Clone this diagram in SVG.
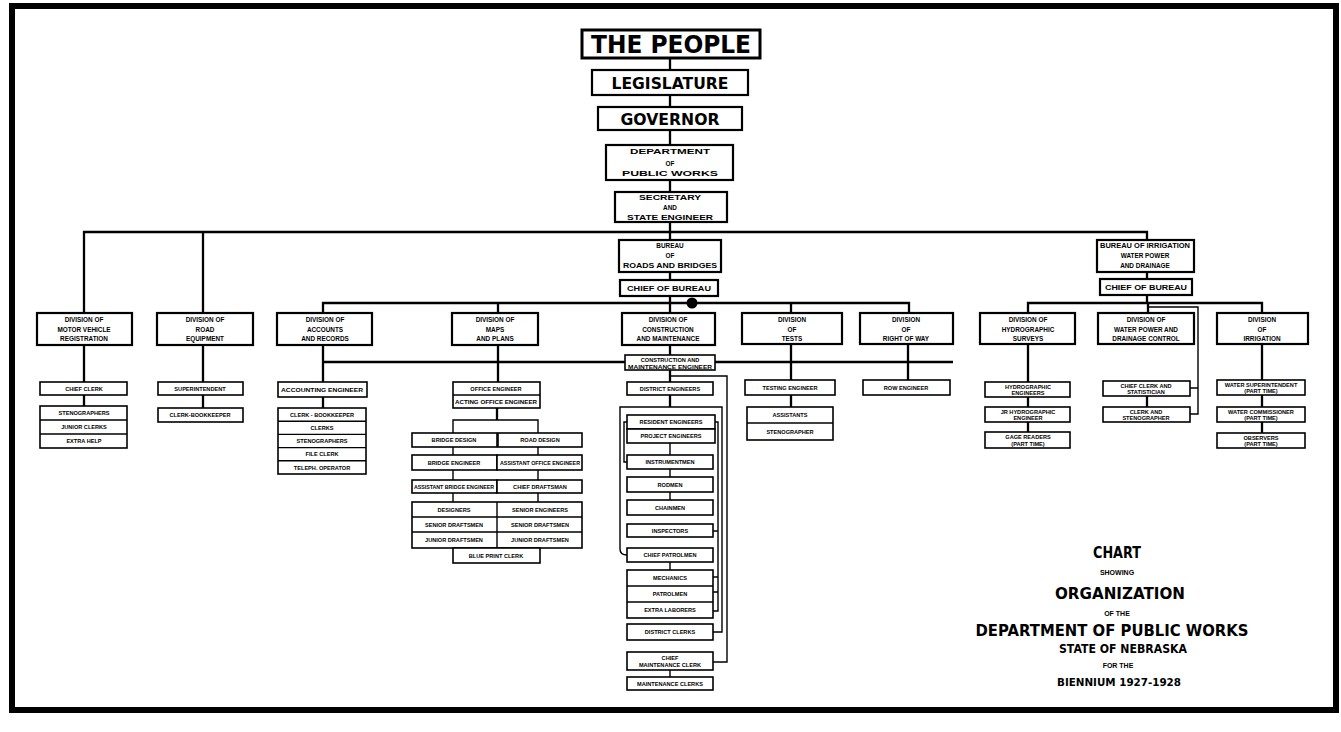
<svg xmlns="http://www.w3.org/2000/svg" width="1341" height="732" viewBox="0 0 1341 732">
<style>
.b{fill:#fff;stroke:#000;stroke-width:1.6}
.bb{fill:#fff;stroke:#000;stroke-width:2.2}
.c{fill:none;stroke:#000;stroke-width:2.3}
.d{fill:none;stroke:#000;stroke-width:1.4}
text{font-family:"Liberation Sans","DejaVu Sans",sans-serif;font-weight:bold;text-anchor:middle;fill:#000}
.s{font-size:5.6px}
.m{font-size:6.4px}
.h{font-family:"DejaVu Sans","Liberation Sans",sans-serif}
</style>
<rect x="0" y="0" width="1341" height="732" fill="#fff"/>
<rect x="12" y="6" width="1324" height="704" fill="none" stroke="#000" stroke-width="6"/>

<g id="connectors">
<path class="c" d="M670 58V313"/>
<path class="c" d="M84 313V232H1147V240"/>
<path class="c" d="M203 232V313"/>
<path class="c" d="M323 313V303H909V313M498 303V313M791 303V313"/>
<circle cx="692" cy="303" r="5.5" fill="#000"/>
<path class="c" d="M1147 272V303M1028 313V303H1262V313M1148 303V313"/>
<path class="d" d="M1148 307H1198V414H1190M1198 388H1190"/>
<path class="c" d="M323 345V408M323 362H953"/>
<path class="c" d="M84 345V406M203 345V408"/>
<path class="c" d="M498 345V382M497 408V420"/>
<path class="d" d="M453 433V420H538V433M453 447V455M538 447V455M453 470V480M538 470V480M453 493V502M538 493V502M497 548V563"/>
<path class="c" d="M670 345V407"/>
<path class="d" d="M620 549V407H722V632H713M620 549Q620 555 627 555"/>
<path class="d" d="M670 376H727V662H713"/>
<path class="d" d="M627 422H624V462H627M715 422H718V611H713M718 531H713M718 577H713M718 592H713"/>
<path class="d" d="M670 443V477M670 492V500M670 562V570M670 670V677"/>
<path class="c" d="M791 344V407M908 344V380"/>
<path class="c" d="M1028 344V432M1147 396V407M1262 344V433"/>
</g>

<g id="the-people"><rect x="582" y="30" width="178" height="28" fill="#fff" stroke="#000" stroke-width="3"/><text class="h" x="671" y="53" font-size="24" textLength="160" lengthAdjust="spacingAndGlyphs">THE PEOPLE</text></g>
<g id="legislature"><rect class="bb" x="592" y="70" width="156" height="25"/><text class="h" x="670" y="89" font-size="16" textLength="117" lengthAdjust="spacingAndGlyphs">LEGISLATURE</text></g>
<g id="governor"><rect class="bb" x="598" y="107" width="144" height="23"/><text class="h" x="670" y="124.5" font-size="16" textLength="99" lengthAdjust="spacingAndGlyphs">GOVERNOR</text></g>
<g id="dept"><rect class="bb" x="606" y="145" width="127" height="35"/><text class="m" x="670" y="154" textLength="80" lengthAdjust="spacingAndGlyphs">DEPARTMENT</text><text class="m" x="670" y="165.5">OF</text><text class="m" x="670" y="176" textLength="96" lengthAdjust="spacingAndGlyphs">PUBLIC  WORKS</text></g>
<g id="secretary"><rect class="bb" x="615" y="192" width="112" height="30"/><text class="m" x="670" y="200" textLength="62" lengthAdjust="spacingAndGlyphs">SECRETARY</text><text class="m" x="670" y="210">AND</text><text class="m" x="670" y="220" textLength="86" lengthAdjust="spacingAndGlyphs">STATE ENGINEER</text></g>

<g id="bureau-roads"><rect class="bb" x="619" y="240" width="102" height="32"/><text class="m" x="670" y="248">BUREAU</text><text class="m" x="670" y="258">OF</text><text class="m" x="670" y="268" textLength="94" lengthAdjust="spacingAndGlyphs">ROADS AND BRIDGES</text></g>
<g id="chief-roads"><rect class="bb" x="620" y="280" width="98" height="16"/><text class="m" x="669" y="290.5" textLength="84" lengthAdjust="spacingAndGlyphs">CHIEF OF BUREAU</text></g>
<g id="bureau-irrigation"><rect class="bb" x="1097" y="240" width="97" height="32"/><text class="m" x="1145" y="248" textLength="90" lengthAdjust="spacingAndGlyphs">BUREAU OF IRRIGATION</text><text class="m" x="1145" y="258">WATER POWER</text><text class="m" x="1145" y="268">AND DRAINAGE</text></g>
<g id="chief-irrigation"><rect class="bb" x="1100" y="279" width="92" height="16"/><text class="m" x="1146" y="289.5" textLength="82" lengthAdjust="spacingAndGlyphs">CHIEF OF BUREAU</text></g>

<g id="div-motor"><rect class="bb" x="37" y="313" width="95" height="32"/><text class="m" x="84" y="322">DIVISION OF</text><text class="m" x="84" y="331.5">MOTOR VEHICLE</text><text class="m" x="84" y="341">REGISTRATION</text></g>
<g id="motor-chief"><rect class="b" x="40" y="382" width="87" height="13"/><text class="s" x="84" y="390.5">CHIEF CLERK</text></g>
<g id="motor-staff"><rect class="b" x="40" y="406" width="87" height="42"/><path class="d" d="M40 420H127M40 434H127"/><text class="s" x="84" y="415">STENOGRAPHERS</text><text class="s" x="84" y="429">JUNIOR CLERKS</text><text class="s" x="84" y="443">EXTRA HELP</text></g>

<g id="div-road"><rect class="bb" x="157" y="313" width="96" height="32"/><text class="m" x="205" y="322">DIVISION OF</text><text class="m" x="205" y="331.5">ROAD</text><text class="m" x="205" y="341">EQUIPMENT</text></g>
<g id="road-sup"><rect class="b" x="158" y="382" width="85" height="13"/><text class="s" x="200" y="390.5">SUPERINTENDENT</text></g>
<g id="road-clerk"><rect class="b" x="158" y="408" width="85" height="14"/><text class="s" x="200" y="417">CLERK-BOOKKEEPER</text></g>

<g id="div-accounts"><rect class="bb" x="277" y="313" width="95" height="32"/><text class="m" x="325" y="322">DIVISION OF</text><text class="m" x="325" y="331.5">ACCOUNTS</text><text class="m" x="325" y="341">AND RECORDS</text></g>
<g id="acc-eng"><rect class="b" x="278" y="382" width="89" height="15"/><text class="s" x="322" y="391.5" textLength="82" lengthAdjust="spacingAndGlyphs">ACCOUNTING ENGINEER</text></g>
<g id="acc-staff"><rect class="b" x="278" y="408" width="88" height="66"/><path class="d" d="M278 421.2H366M278 434.4H366M278 447.6H366M278 460.8H366"/><text class="s" x="322" y="416.7">CLERK - BOOKKEEPER</text><text class="s" x="322" y="429.9">CLERKS</text><text class="s" x="322" y="443.1">STENOGRAPHERS</text><text class="s" x="322" y="456.3">FILE CLERK</text><text class="s" x="322" y="469.5">TELEPH. OPERATOR</text></g>

<g id="div-maps"><rect class="bb" x="452" y="313" width="86" height="32"/><text class="m" x="495" y="322">DIVISION OF</text><text class="m" x="495" y="331.5">MAPS</text><text class="m" x="495" y="341">AND PLANS</text></g>
<g id="office-eng"><rect class="b" x="453" y="382" width="87" height="26"/><path class="d" d="M453 395H540"/><text class="s" x="496" y="391">OFFICE ENGINEER</text><text class="s" x="496" y="404" textLength="82" lengthAdjust="spacingAndGlyphs">ACTING OFFICE ENGINEER</text></g>
<g id="bridge-design"><rect class="b" x="412" y="433" width="85" height="14"/><text class="s" x="454" y="442">BRIDGE DESIGN</text></g>
<g id="road-design"><rect class="b" x="498" y="433" width="84" height="14"/><text class="s" x="540" y="442">ROAD DESIGN</text></g>
<g id="bridge-eng"><rect class="b" x="412" y="455" width="85" height="15"/><text class="s" x="454" y="464.5">BRIDGE ENGINEER</text></g>
<g id="asst-office-eng"><rect class="b" x="497" y="455" width="85" height="15"/><text class="s" x="540" y="464.5" textLength="80" lengthAdjust="spacingAndGlyphs">ASSISTANT OFFICE ENGINEER</text></g>
<g id="asst-bridge-eng"><rect class="b" x="412" y="480" width="85" height="13"/><text class="s" x="454" y="488.5" textLength="80" lengthAdjust="spacingAndGlyphs">ASSISTANT BRIDGE ENGINEER</text></g>
<g id="chief-draftsman"><rect class="b" x="497" y="480" width="85" height="13"/><text class="s" x="540" y="488.5">CHIEF DRAFTSMAN</text></g>
<g id="design-staff"><rect class="b" x="412" y="502" width="170" height="46"/><path class="d" d="M497 502V548M412 517H582M412 532H582"/><text class="s" x="454" y="511.5">DESIGNERS</text><text class="s" x="540" y="511.5">SENIOR ENGINEERS</text><text class="s" x="454" y="526.5">SENIOR DRAFTSMEN</text><text class="s" x="540" y="526.5">SENIOR DRAFTSMEN</text><text class="s" x="454" y="542">JUNIOR DRAFTSMEN</text><text class="s" x="540" y="542">JUNIOR DRAFTSMEN</text></g>
<g id="blue-print"><rect class="b" x="453" y="548" width="87" height="15"/><text class="s" x="496" y="557.5">BLUE PRINT CLERK</text></g>

<g id="div-construction"><rect class="bb" x="622" y="313" width="93" height="32"/><text class="m" x="668" y="322">DIVISION OF</text><text class="m" x="668" y="331.5">CONSTRUCTION</text><text class="m" x="668" y="341">AND MAINTENANCE</text></g>
<g id="cm-eng"><rect class="b" x="625" y="355" width="90" height="15"/><text class="s" x="670" y="361.5">CONSTRUCTION AND</text><text class="s" x="670" y="368.5" textLength="84" lengthAdjust="spacingAndGlyphs">MAINTENANCE ENGINEER</text></g>
<g id="district-eng"><rect class="b" x="627" y="382" width="86" height="13"/><text class="s" x="670" y="390.5">DISTRICT ENGINEERS</text></g>
<g id="resident-eng"><rect class="b" x="627" y="415" width="88" height="14"/><text class="s" x="671" y="424">RESIDENT ENGINEERS</text></g>
<g id="project-eng"><rect class="b" x="627" y="429" width="88" height="14"/><text class="s" x="671" y="438">PROJECT ENGINEERS</text></g>
<g id="instrumentmen"><rect class="b" x="627" y="455" width="86" height="14"/><text class="s" x="670" y="464">INSTRUMENTMEN</text></g>
<g id="rodmen"><rect class="b" x="627" y="477" width="86" height="15"/><text class="s" x="670" y="486.5">RODMEN</text></g>
<g id="chainmen"><rect class="b" x="627" y="500" width="86" height="15"/><text class="s" x="670" y="509.5">CHAINMEN</text></g>
<g id="inspectors"><rect class="b" x="627" y="524" width="86" height="13"/><text class="s" x="670" y="532.5">INSPECTORS</text></g>
<g id="chief-patrolmen"><rect class="b" x="627" y="548" width="86" height="14"/><text class="s" x="670" y="557">CHIEF PATROLMEN</text></g>
<g id="patrol-staff"><rect class="b" x="627" y="570" width="86" height="48"/><path class="d" d="M627 586H713M627 602H713"/><text class="s" x="670" y="580">MECHANICS</text><text class="s" x="670" y="596">PATROLMEN</text><text class="s" x="670" y="612">EXTRA LABORERS</text></g>
<g id="district-clerks"><rect class="b" x="627" y="624" width="86" height="16"/><text class="s" x="670" y="634">DISTRICT CLERKS</text></g>
<g id="chief-maint-clerk"><rect class="b" x="627" y="652" width="86" height="18"/><text class="s" x="670" y="659.5">CHIEF</text><text class="s" x="670" y="667">MAINTENANCE CLERK</text></g>
<g id="maint-clerks"><rect class="b" x="627" y="677" width="86" height="13"/><text class="s" x="670" y="685.5">MAINTENANCE CLERKS</text></g>

<g id="div-tests"><rect class="bb" x="742" y="313" width="100" height="31"/><text class="m" x="792" y="322">DIVISION</text><text class="m" x="792" y="331.5">OF</text><text class="m" x="792" y="341">TESTS</text></g>
<g id="testing-eng"><rect class="b" x="745" y="380" width="90" height="15"/><text class="s" x="790" y="389.5">TESTING ENGINEER</text></g>
<g id="tests-staff"><rect class="b" x="747" y="407" width="86" height="33"/><path class="d" d="M747 423H833"/><text class="s" x="790" y="417">ASSISTANTS</text><text class="s" x="790" y="433.5">STENOGRAPHER</text></g>

<g id="div-row"><rect class="bb" x="860" y="313" width="93" height="31"/><text class="m" x="906" y="322">DIVISION</text><text class="m" x="906" y="331.5">OF</text><text class="m" x="906" y="341">RIGHT OF WAY</text></g>
<g id="row-eng"><rect class="b" x="863" y="380" width="87" height="15"/><text class="s" x="906" y="389.5">ROW ENGINEER</text></g>

<g id="div-hydro"><rect class="bb" x="980" y="313" width="95" height="31"/><text class="m" x="1028" y="322">DIVISION OF</text><text class="m" x="1028" y="331.5">HYDROGRAPHIC</text><text class="m" x="1028" y="341">SURVEYS</text></g>
<g id="hydro-eng"><rect class="b" x="985" y="382" width="85" height="15"/><text class="s" x="1028" y="388.5">HYDROGRAPHIC</text><text class="s" x="1028" y="395">ENGINEERS</text></g>
<g id="jr-hydro"><rect class="b" x="985" y="407" width="85" height="15"/><text class="s" x="1028" y="413.5">JR HYDROGRAPHIC</text><text class="s" x="1028" y="420">ENGINEER</text></g>
<g id="gage"><rect class="b" x="985" y="432" width="85" height="16"/><text class="s" x="1028" y="439">GAGE READERS</text><text class="s" x="1028" y="446" font-size="4.6">(PART TIME)</text></g>

<g id="div-water"><rect class="bb" x="1098" y="313" width="96" height="31"/><text class="m" x="1146" y="322">DIVISION OF</text><text class="m" x="1146" y="331.5">WATER POWER AND</text><text class="m" x="1146" y="341">DRAINAGE CONTROL</text></g>
<g id="chief-clerk-stat"><rect class="b" x="1103" y="381" width="87" height="15"/><text class="s" x="1146" y="387.5">CHIEF CLERK AND</text><text class="s" x="1146" y="394">STATISTICIAN</text></g>
<g id="clerk-steno"><rect class="b" x="1103" y="407" width="87" height="15"/><text class="s" x="1146" y="413.5">CLERK AND</text><text class="s" x="1146" y="420">STENOGRAPHER</text></g>

<g id="div-irrigation"><rect class="bb" x="1217" y="313" width="91" height="31"/><text class="m" x="1262" y="322">DIVISION</text><text class="m" x="1262" y="331.5">OF</text><text class="m" x="1262" y="341">IRRIGATION</text></g>
<g id="water-sup"><rect class="b" x="1217" y="380" width="88" height="15"/><text class="s" x="1261" y="386.5">WATER SUPERINTENDENT</text><text class="s" x="1261" y="393" font-size="4.6">(PART TIME)</text></g>
<g id="water-comm"><rect class="b" x="1217" y="407" width="88" height="15"/><text class="s" x="1261" y="413.5">WATER COMMISSIONER</text><text class="s" x="1261" y="420" font-size="4.6">(PART TIME)</text></g>
<g id="observers"><rect class="b" x="1217" y="433" width="88" height="15"/><text class="s" x="1261" y="439.5">OBSERVERS</text><text class="s" x="1261" y="446" font-size="4.6">(PART TIME)</text></g>

<g id="title">
<text class="h" x="1117" y="558" font-size="15" textLength="48" lengthAdjust="spacingAndGlyphs">CHART</text>
<text x="1117" y="575" font-size="7">SHOWING</text>
<text class="h" x="1120" y="599" font-size="16" textLength="130" lengthAdjust="spacingAndGlyphs">ORGANIZATION</text>
<text x="1117" y="616" font-size="7">OF THE</text>
<text class="h" x="1112" y="635.5" font-size="15" textLength="273" lengthAdjust="spacingAndGlyphs">DEPARTMENT OF PUBLIC WORKS</text>
<text class="h" x="1123" y="652.5" font-size="11.5" textLength="128" lengthAdjust="spacingAndGlyphs">STATE OF NEBRASKA</text>
<text x="1118" y="668" font-size="7">FOR THE</text>
<text class="h" x="1119" y="686" font-size="11" textLength="124" lengthAdjust="spacingAndGlyphs">BIENNIUM 1927-1928</text>
</g>
</svg>
